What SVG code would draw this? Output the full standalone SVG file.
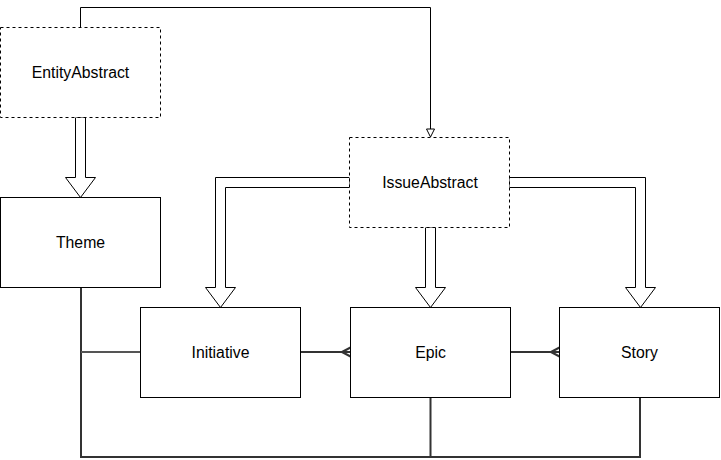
<svg xmlns="http://www.w3.org/2000/svg" width="721" height="460" viewBox="0 0 721 460">
<style>
.box{fill:#fff;stroke:#000;stroke-width:1}
.dash{stroke-dasharray:3 3}
.lbl{font-family:"Liberation Sans",Arial,sans-serif;font-size:15.8px;fill:#000;text-anchor:middle}
.flex{fill:#fff;stroke:#000;stroke-width:1;stroke-linejoin:miter}
.er{fill:none;stroke:#333;stroke-width:2}
.thin{fill:none;stroke:#000;stroke-width:1}
</style>
<rect width="721" height="460" fill="#fff"/>
<g id="connectors">
  <path class="thin" d="M80.5,27.5 V7.5 H430.5 V129"/>
  <polygon class="flex" points="426.5,129 434.5,129 430.5,137"/>
  <polygon class="flex" points="75.5,117.5 85.5,117.5 85.5,177.5 95.5,177.5 80.5,197.5 65.5,177.5 75.5,177.5"/>
  <polygon class="flex" points="349.5,177.5 215.5,177.5 215.5,287.5 205.5,287.5 220.5,307.5 235.5,287.5 225.5,287.5 225.5,187.5 349.5,187.5"/>
  <polygon class="flex" points="425.5,227.5 435.5,227.5 435.5,287.5 445.5,287.5 430.5,307.5 415.5,287.5 425.5,287.5"/>
  <polygon class="flex" points="509.5,177.5 645.5,177.5 645.5,287.5 655.5,287.5 640.5,307.5 625.5,287.5 635.5,287.5 635.5,187.5 509.5,187.5"/>
  <path class="er" d="M81,287.5 V457 H430.5 V397.5"/>
  <path class="er" d="M430.5,457 H640 V397.5"/>
  <path class="er" style="stroke:#555" d="M81,352 H140.5"/>
  <path class="er" d="M300.5,352 H350.5 M342,352 L350.5,347.5 M342,352 L350.5,356.5"/>
  <path class="er" d="M510.5,352 H559.5 M551,352 L559.5,347.5 M551,352 L559.5,356.5"/>
</g>
<g id="EntityAbstract">
  <rect class="box dash" x="0.5" y="27.5" width="160" height="90"/>
  <text class="lbl" x="80.5" y="78">EntityAbstract</text>
</g>
<g id="Theme">
  <rect class="box" x="0.5" y="197.5" width="160" height="90"/>
  <text class="lbl" x="80.5" y="248">Theme</text>
</g>
<g id="IssueAbstract">
  <rect class="box dash" x="349.5" y="137.5" width="160" height="90"/>
  <text class="lbl" x="430" y="188">IssueAbstract</text>
</g>
<g id="Initiative">
  <rect class="box" x="140.5" y="307.5" width="160" height="90"/>
  <text class="lbl" x="220.5" y="358">Initiative</text>
</g>
<g id="Epic">
  <rect class="box" x="350.5" y="307.5" width="160" height="90"/>
  <text class="lbl" x="430.5" y="358">Epic</text>
</g>
<g id="Story">
  <rect class="box" x="559.5" y="307.5" width="160" height="90"/>
  <text class="lbl" x="639.5" y="358">Story</text>
</g>
</svg>
